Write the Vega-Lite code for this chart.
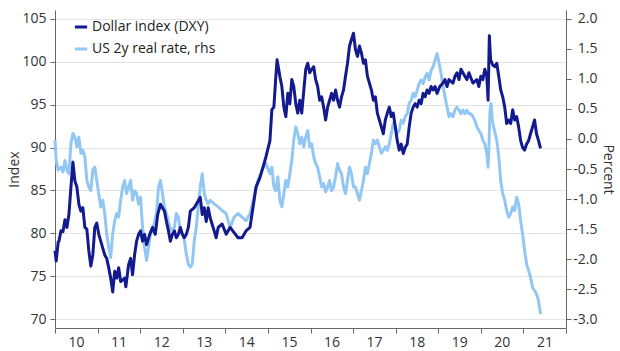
{
  "$schema": "https://vega.github.io/schema/vega-lite/v6.json",
  "autosize": {"type": "none"},
  "width": 511,
  "height": 318,
  "padding": {"left": 55, "top": 10, "right": 54, "bottom": 23},
  "background": "#ffffff",
  "config": {
    "font": "Open Sans",
    "view": {"stroke": null},
    "axis": {"labelFont": "Open Sans", "titleFont": "Open Sans", "labelFontSize": 14, "titleFontSize": 14, "labelColor": "#333333", "titleColor": "#333333", "titleFontWeight": "normal", "domainColor": "#666666", "tickColor": "#666666", "tickSize": 5, "gridColor": "#e4e4e4"},
    "legend": {"labelFont": "Open Sans", "labelFontSize": 14, "labelColor": "#222222"}
  },
  "datasets": {
    "dxy": [
      {"t": 2010.000, "v": 78.0}, {"t": 2010.028, "v": 76.8}, {"t": 2010.075, "v": 79.0}, {"t": 2010.093, "v": 79.1},
      {"t": 2010.140, "v": 80.3}, {"t": 2010.187, "v": 80.2}, {"t": 2010.234, "v": 81.6}, {"t": 2010.280, "v": 80.7},
      {"t": 2010.327, "v": 82.2}, {"t": 2010.374, "v": 85.4}, {"t": 2010.421, "v": 88.3}, {"t": 2010.467, "v": 86.1},
      {"t": 2010.514, "v": 85.4}, {"t": 2010.561, "v": 83.4}, {"t": 2010.607, "v": 82.6}, {"t": 2010.654, "v": 83.0},
      {"t": 2010.701, "v": 80.7}, {"t": 2010.748, "v": 80.5}, {"t": 2010.794, "v": 78.0}, {"t": 2010.841, "v": 76.2},
      {"t": 2010.888, "v": 77.5}, {"t": 2010.935, "v": 80.7}, {"t": 2010.981, "v": 81.2}, {"t": 2011.028, "v": 79.9},
      {"t": 2011.075, "v": 79.1}, {"t": 2011.121, "v": 78.3}, {"t": 2011.168, "v": 77.5}, {"t": 2011.215, "v": 77.1},
      {"t": 2011.262, "v": 76.0}, {"t": 2011.308, "v": 74.8}, {"t": 2011.355, "v": 73.2}, {"t": 2011.402, "v": 75.6},
      {"t": 2011.449, "v": 74.8}, {"t": 2011.495, "v": 76.0}, {"t": 2011.542, "v": 74.4}, {"t": 2011.589, "v": 74.6},
      {"t": 2011.636, "v": 74.8}, {"t": 2011.664, "v": 73.8}, {"t": 2011.729, "v": 76.4}, {"t": 2011.776, "v": 77.1},
      {"t": 2011.822, "v": 75.2}, {"t": 2011.869, "v": 77.5}, {"t": 2011.916, "v": 79.1}, {"t": 2011.963, "v": 79.9},
      {"t": 2012.009, "v": 80.3}, {"t": 2012.056, "v": 79.1}, {"t": 2012.103, "v": 79.9}, {"t": 2012.150, "v": 78.7},
      {"t": 2012.224, "v": 79.9}, {"t": 2012.290, "v": 80.7}, {"t": 2012.355, "v": 79.9}, {"t": 2012.411, "v": 82.2},
      {"t": 2012.477, "v": 83.4}, {"t": 2012.523, "v": 83.0}, {"t": 2012.570, "v": 82.6}, {"t": 2012.617, "v": 81.4},
      {"t": 2012.664, "v": 80.3}, {"t": 2012.710, "v": 79.1}, {"t": 2012.757, "v": 79.9}, {"t": 2012.804, "v": 80.3},
      {"t": 2012.850, "v": 79.5}, {"t": 2012.897, "v": 79.9}, {"t": 2012.944, "v": 80.7}, {"t": 2012.991, "v": 79.9},
      {"t": 2013.037, "v": 79.5}, {"t": 2013.084, "v": 79.9}, {"t": 2013.131, "v": 80.7}, {"t": 2013.178, "v": 82.6},
      {"t": 2013.271, "v": 83.0}, {"t": 2013.364, "v": 83.8}, {"t": 2013.411, "v": 84.2}, {"t": 2013.458, "v": 82.2},
      {"t": 2013.505, "v": 83.0}, {"t": 2013.551, "v": 81.4}, {"t": 2013.598, "v": 83.0}, {"t": 2013.645, "v": 81.8},
      {"t": 2013.738, "v": 80.3}, {"t": 2013.785, "v": 79.5}, {"t": 2013.832, "v": 80.7}, {"t": 2013.925, "v": 81.1},
      {"t": 2014.019, "v": 79.9}, {"t": 2014.112, "v": 80.7}, {"t": 2014.206, "v": 80.1}, {"t": 2014.299, "v": 79.5},
      {"t": 2014.393, "v": 79.5}, {"t": 2014.486, "v": 80.3}, {"t": 2014.579, "v": 80.7}, {"t": 2014.673, "v": 83.8},
      {"t": 2014.720, "v": 85.4}, {"t": 2014.813, "v": 86.5}, {"t": 2014.907, "v": 88.1}, {"t": 2014.953, "v": 88.9},
      {"t": 2015.047, "v": 90.8}, {"t": 2015.093, "v": 94.4}, {"t": 2015.140, "v": 94.7}, {"t": 2015.187, "v": 98.3},
      {"t": 2015.215, "v": 100.2}, {"t": 2015.280, "v": 98.3}, {"t": 2015.327, "v": 97.1}, {"t": 2015.374, "v": 94.7},
      {"t": 2015.421, "v": 93.6}, {"t": 2015.467, "v": 96.3}, {"t": 2015.514, "v": 95.1}, {"t": 2015.561, "v": 97.9},
      {"t": 2015.607, "v": 97.1}, {"t": 2015.654, "v": 95.1}, {"t": 2015.701, "v": 94.0}, {"t": 2015.748, "v": 95.5},
      {"t": 2015.794, "v": 94.0}, {"t": 2015.888, "v": 99.1}, {"t": 2015.935, "v": 99.8}, {"t": 2015.981, "v": 98.7},
      {"t": 2016.028, "v": 99.1}, {"t": 2016.075, "v": 99.4}, {"t": 2016.121, "v": 97.9}, {"t": 2016.168, "v": 97.1},
      {"t": 2016.215, "v": 95.5}, {"t": 2016.262, "v": 95.9}, {"t": 2016.308, "v": 94.7}, {"t": 2016.355, "v": 93.2},
      {"t": 2016.402, "v": 94.7}, {"t": 2016.449, "v": 95.5}, {"t": 2016.495, "v": 96.3}, {"t": 2016.542, "v": 95.5},
      {"t": 2016.589, "v": 96.7}, {"t": 2016.636, "v": 95.5}, {"t": 2016.682, "v": 94.7}, {"t": 2016.729, "v": 95.9},
      {"t": 2016.776, "v": 96.7}, {"t": 2016.822, "v": 98.3}, {"t": 2016.869, "v": 99.8}, {"t": 2016.916, "v": 101.8},
      {"t": 2016.963, "v": 102.6}, {"t": 2017.009, "v": 103.3}, {"t": 2017.056, "v": 101.4}, {"t": 2017.103, "v": 100.6},
      {"t": 2017.150, "v": 101.8}, {"t": 2017.196, "v": 101.0}, {"t": 2017.243, "v": 99.8}, {"t": 2017.290, "v": 100.2},
      {"t": 2017.336, "v": 98.3}, {"t": 2017.383, "v": 97.5}, {"t": 2017.430, "v": 96.7}, {"t": 2017.477, "v": 95.5},
      {"t": 2017.523, "v": 95.9}, {"t": 2017.570, "v": 94.0}, {"t": 2017.617, "v": 93.2}, {"t": 2017.664, "v": 92.4},
      {"t": 2017.710, "v": 91.6}, {"t": 2017.757, "v": 93.2}, {"t": 2017.804, "v": 94.0}, {"t": 2017.850, "v": 94.7},
      {"t": 2017.897, "v": 93.6}, {"t": 2017.944, "v": 94.0}, {"t": 2017.991, "v": 92.4}, {"t": 2018.037, "v": 90.8},
      {"t": 2018.084, "v": 89.7}, {"t": 2018.131, "v": 90.4}, {"t": 2018.178, "v": 89.3}, {"t": 2018.224, "v": 90.0},
      {"t": 2018.271, "v": 90.4}, {"t": 2018.318, "v": 92.4}, {"t": 2018.364, "v": 94.0}, {"t": 2018.411, "v": 94.7},
      {"t": 2018.458, "v": 95.1}, {"t": 2018.505, "v": 94.7}, {"t": 2018.551, "v": 95.5}, {"t": 2018.598, "v": 95.1},
      {"t": 2018.645, "v": 96.3}, {"t": 2018.692, "v": 95.9}, {"t": 2018.738, "v": 96.7}, {"t": 2018.785, "v": 96.3},
      {"t": 2018.832, "v": 97.1}, {"t": 2018.879, "v": 96.7}, {"t": 2018.925, "v": 97.1}, {"t": 2018.972, "v": 96.3},
      {"t": 2019.037, "v": 97.1}, {"t": 2019.112, "v": 97.5}, {"t": 2019.159, "v": 97.9}, {"t": 2019.206, "v": 97.1},
      {"t": 2019.252, "v": 97.9}, {"t": 2019.346, "v": 97.5}, {"t": 2019.393, "v": 98.3}, {"t": 2019.439, "v": 98.7},
      {"t": 2019.486, "v": 97.9}, {"t": 2019.533, "v": 99.1}, {"t": 2019.626, "v": 98.3}, {"t": 2019.673, "v": 97.9},
      {"t": 2019.720, "v": 98.7}, {"t": 2019.813, "v": 97.5}, {"t": 2019.907, "v": 97.9}, {"t": 2019.953, "v": 97.1},
      {"t": 2020.000, "v": 98.3}, {"t": 2020.047, "v": 97.9}, {"t": 2020.093, "v": 99.1}, {"t": 2020.140, "v": 98.3},
      {"t": 2020.170, "v": 95.5}, {"t": 2020.200, "v": 103.0}, {"t": 2020.230, "v": 100.2}, {"t": 2020.280, "v": 99.6},
      {"t": 2020.327, "v": 99.4}, {"t": 2020.374, "v": 99.8}, {"t": 2020.421, "v": 98.3}, {"t": 2020.467, "v": 96.7},
      {"t": 2020.514, "v": 95.9}, {"t": 2020.561, "v": 94.7}, {"t": 2020.607, "v": 92.8}, {"t": 2020.654, "v": 93.2},
      {"t": 2020.701, "v": 92.8}, {"t": 2020.748, "v": 94.4}, {"t": 2020.794, "v": 93.2}, {"t": 2020.841, "v": 93.6},
      {"t": 2020.888, "v": 92.4}, {"t": 2020.935, "v": 90.8}, {"t": 2020.981, "v": 90.0}, {"t": 2021.028, "v": 89.7},
      {"t": 2021.075, "v": 90.4}, {"t": 2021.121, "v": 90.8}, {"t": 2021.168, "v": 91.6}, {"t": 2021.215, "v": 92.4},
      {"t": 2021.262, "v": 93.2}, {"t": 2021.308, "v": 91.6}, {"t": 2021.355, "v": 90.8}, {"t": 2021.402, "v": 89.9}
    ],
    "rate": [
      {"t": 2010.000, "v": -0.02}, {"t": 2010.028, "v": -0.36}, {"t": 2010.075, "v": -0.52}, {"t": 2010.140, "v": -0.47},
      {"t": 2010.187, "v": -0.55}, {"t": 2010.234, "v": -0.36}, {"t": 2010.280, "v": -0.52}, {"t": 2010.327, "v": -0.58},
      {"t": 2010.374, "v": -0.08}, {"t": 2010.421, "v": 0.09}, {"t": 2010.467, "v": 0.03}, {"t": 2010.514, "v": -0.13},
      {"t": 2010.561, "v": 0.03}, {"t": 2010.607, "v": -0.24}, {"t": 2010.654, "v": -0.19}, {"t": 2010.701, "v": -0.30},
      {"t": 2010.748, "v": -0.69}, {"t": 2010.794, "v": -0.80}, {"t": 2010.841, "v": -0.86}, {"t": 2010.888, "v": -0.52},
      {"t": 2010.935, "v": -0.47}, {"t": 2010.981, "v": -0.69}, {"t": 2011.028, "v": -0.91}, {"t": 2011.075, "v": -1.13},
      {"t": 2011.121, "v": -1.02}, {"t": 2011.168, "v": -1.24}, {"t": 2011.215, "v": -1.58}, {"t": 2011.262, "v": -1.80},
      {"t": 2011.308, "v": -1.97}, {"t": 2011.355, "v": -1.58}, {"t": 2011.402, "v": -1.36}, {"t": 2011.449, "v": -1.24},
      {"t": 2011.495, "v": -1.30}, {"t": 2011.542, "v": -1.02}, {"t": 2011.589, "v": -0.80}, {"t": 2011.636, "v": -0.69},
      {"t": 2011.682, "v": -0.91}, {"t": 2011.729, "v": -0.80}, {"t": 2011.776, "v": -0.69}, {"t": 2011.822, "v": -1.02},
      {"t": 2011.869, "v": -0.86}, {"t": 2011.916, "v": -0.91}, {"t": 2011.963, "v": -1.08}, {"t": 2012.009, "v": -0.97},
      {"t": 2012.056, "v": -1.47}, {"t": 2012.103, "v": -1.80}, {"t": 2012.150, "v": -2.02}, {"t": 2012.196, "v": -1.80},
      {"t": 2012.243, "v": -1.58}, {"t": 2012.290, "v": -1.52}, {"t": 2012.383, "v": -1.24}, {"t": 2012.430, "v": -0.80},
      {"t": 2012.477, "v": -0.69}, {"t": 2012.523, "v": -0.91}, {"t": 2012.570, "v": -1.13}, {"t": 2012.617, "v": -1.24},
      {"t": 2012.710, "v": -1.52}, {"t": 2012.804, "v": -1.47}, {"t": 2012.850, "v": -1.24}, {"t": 2012.897, "v": -1.30},
      {"t": 2012.944, "v": -1.52}, {"t": 2012.991, "v": -1.58}, {"t": 2013.037, "v": -1.69}, {"t": 2013.084, "v": -1.91},
      {"t": 2013.131, "v": -2.08}, {"t": 2013.178, "v": -2.13}, {"t": 2013.224, "v": -2.08}, {"t": 2013.271, "v": -1.69},
      {"t": 2013.318, "v": -1.47}, {"t": 2013.364, "v": -1.13}, {"t": 2013.411, "v": -0.80}, {"t": 2013.458, "v": -0.58},
      {"t": 2013.505, "v": -0.91}, {"t": 2013.551, "v": -1.02}, {"t": 2013.598, "v": -1.08}, {"t": 2013.645, "v": -1.02},
      {"t": 2013.738, "v": -1.08}, {"t": 2013.832, "v": -1.13}, {"t": 2013.925, "v": -1.19}, {"t": 2014.019, "v": -1.24},
      {"t": 2014.065, "v": -1.36}, {"t": 2014.112, "v": -1.47}, {"t": 2014.206, "v": -1.30}, {"t": 2014.299, "v": -1.24},
      {"t": 2014.393, "v": -1.30}, {"t": 2014.486, "v": -1.36}, {"t": 2014.579, "v": -1.24}, {"t": 2014.673, "v": -0.97},
      {"t": 2014.766, "v": -0.69}, {"t": 2014.860, "v": -0.52}, {"t": 2014.953, "v": -0.41}, {"t": 2015.047, "v": -0.58},
      {"t": 2015.093, "v": -0.47}, {"t": 2015.140, "v": -0.80}, {"t": 2015.187, "v": -0.86}, {"t": 2015.234, "v": -0.63},
      {"t": 2015.280, "v": -1.02}, {"t": 2015.327, "v": -1.13}, {"t": 2015.374, "v": -0.91}, {"t": 2015.421, "v": -0.69},
      {"t": 2015.467, "v": -0.80}, {"t": 2015.514, "v": -0.58}, {"t": 2015.561, "v": -0.36}, {"t": 2015.607, "v": -0.02},
      {"t": 2015.654, "v": 0.20}, {"t": 2015.701, "v": 0.09}, {"t": 2015.748, "v": -0.08}, {"t": 2015.794, "v": 0.03},
      {"t": 2015.841, "v": -0.13}, {"t": 2015.888, "v": 0.03}, {"t": 2015.935, "v": 0.14}, {"t": 2015.981, "v": -0.13},
      {"t": 2016.028, "v": -0.08}, {"t": 2016.075, "v": -0.30}, {"t": 2016.121, "v": -0.41}, {"t": 2016.168, "v": -0.47},
      {"t": 2016.215, "v": -0.63}, {"t": 2016.262, "v": -0.80}, {"t": 2016.308, "v": -0.74}, {"t": 2016.355, "v": -0.88},
      {"t": 2016.402, "v": -0.80}, {"t": 2016.449, "v": -0.69}, {"t": 2016.495, "v": -0.86}, {"t": 2016.542, "v": -0.80},
      {"t": 2016.589, "v": -0.63}, {"t": 2016.636, "v": -0.41}, {"t": 2016.682, "v": -0.52}, {"t": 2016.729, "v": -0.58},
      {"t": 2016.776, "v": -0.80}, {"t": 2016.822, "v": -0.91}, {"t": 2016.869, "v": -0.69}, {"t": 2016.916, "v": -0.47},
      {"t": 2016.963, "v": -0.58}, {"t": 2017.009, "v": -0.80}, {"t": 2017.056, "v": -0.80}, {"t": 2017.103, "v": -0.91},
      {"t": 2017.150, "v": -1.02}, {"t": 2017.196, "v": -0.86}, {"t": 2017.243, "v": -0.69}, {"t": 2017.290, "v": -0.47},
      {"t": 2017.336, "v": -0.58}, {"t": 2017.383, "v": -0.41}, {"t": 2017.430, "v": -0.24}, {"t": 2017.477, "v": -0.02},
      {"t": 2017.523, "v": -0.08}, {"t": 2017.570, "v": -0.02}, {"t": 2017.617, "v": -0.13}, {"t": 2017.664, "v": -0.24},
      {"t": 2017.710, "v": -0.19}, {"t": 2017.757, "v": -0.13}, {"t": 2017.804, "v": -0.19}, {"t": 2017.850, "v": -0.08},
      {"t": 2017.897, "v": 0.09}, {"t": 2017.944, "v": 0.26}, {"t": 2017.991, "v": 0.20}, {"t": 2018.037, "v": 0.09},
      {"t": 2018.084, "v": 0.14}, {"t": 2018.131, "v": 0.31}, {"t": 2018.178, "v": 0.26}, {"t": 2018.224, "v": 0.37},
      {"t": 2018.271, "v": 0.42}, {"t": 2018.318, "v": 0.59}, {"t": 2018.364, "v": 0.64}, {"t": 2018.411, "v": 0.76},
      {"t": 2018.458, "v": 0.70}, {"t": 2018.505, "v": 0.81}, {"t": 2018.551, "v": 0.92}, {"t": 2018.598, "v": 0.98},
      {"t": 2018.645, "v": 0.92}, {"t": 2018.692, "v": 1.03}, {"t": 2018.738, "v": 1.09}, {"t": 2018.785, "v": 0.98},
      {"t": 2018.832, "v": 1.14}, {"t": 2018.879, "v": 1.20}, {"t": 2018.925, "v": 1.31}, {"t": 2018.972, "v": 1.42},
      {"t": 2019.019, "v": 1.26}, {"t": 2019.065, "v": 1.09}, {"t": 2019.112, "v": 0.87}, {"t": 2019.159, "v": 0.70},
      {"t": 2019.206, "v": 0.53}, {"t": 2019.252, "v": 0.37}, {"t": 2019.299, "v": 0.42}, {"t": 2019.346, "v": 0.37},
      {"t": 2019.393, "v": 0.48}, {"t": 2019.439, "v": 0.53}, {"t": 2019.486, "v": 0.48}, {"t": 2019.533, "v": 0.42},
      {"t": 2019.579, "v": 0.48}, {"t": 2019.626, "v": 0.42}, {"t": 2019.673, "v": 0.48}, {"t": 2019.720, "v": 0.42},
      {"t": 2019.766, "v": 0.42}, {"t": 2019.813, "v": 0.37}, {"t": 2019.860, "v": 0.31}, {"t": 2019.907, "v": 0.20},
      {"t": 2019.953, "v": 0.14}, {"t": 2020.000, "v": 0.09}, {"t": 2020.047, "v": -0.02}, {"t": 2020.093, "v": -0.08},
      {"t": 2020.140, "v": -0.24}, {"t": 2020.170, "v": -0.47}, {"t": 2020.190, "v": -0.13}, {"t": 2020.215, "v": 0.48},
      {"t": 2020.240, "v": 0.59}, {"t": 2020.270, "v": 0.31}, {"t": 2020.300, "v": 0.20}, {"t": 2020.374, "v": -0.02},
      {"t": 2020.421, "v": -0.30}, {"t": 2020.467, "v": -0.69}, {"t": 2020.514, "v": -0.91}, {"t": 2020.561, "v": -1.02},
      {"t": 2020.607, "v": -1.19}, {"t": 2020.654, "v": -1.30}, {"t": 2020.701, "v": -1.24}, {"t": 2020.748, "v": -1.13},
      {"t": 2020.794, "v": -1.19}, {"t": 2020.841, "v": -0.97}, {"t": 2020.888, "v": -1.08}, {"t": 2020.935, "v": -1.36},
      {"t": 2020.981, "v": -1.58}, {"t": 2021.028, "v": -1.86}, {"t": 2021.075, "v": -2.08}, {"t": 2021.121, "v": -2.19},
      {"t": 2021.168, "v": -2.30}, {"t": 2021.215, "v": -2.47}, {"t": 2021.262, "v": -2.52}, {"t": 2021.308, "v": -2.58},
      {"t": 2021.355, "v": -2.69}, {"t": 2021.402, "v": -2.91}
    ]
  },
  "layer": [
    {
      "data": {"name": "rate"},
      "mark": {"type": "line", "strokeWidth": 3, "strokeJoin": "round"},
      "encoding": {
        "x": {"field": "t", "type": "quantitative", "scale": {"domain": [2010, 2022], "nice": false, "zero": false},
          "axis": {"values": [2010, 2011, 2012, 2013, 2014, 2015, 2016, 2017, 2018, 2019, 2020, 2021, 2022], "labelExpr": "datum.value < 2022 ? substring(toString(datum.value), 2, 4) : ''", "labelOffset": 21, "labelPadding": 2, "grid": false, "title": null, "labelFlush": false, "labelOverlap": false}},
        "y": {"field": "v", "type": "quantitative", "scale": {"domain": [-3.142857, 2.142857], "nice": false, "zero": false},
          "axis": {"orient": "right", "title": "Percent", "values": [-3, -2.5, -2, -1.5, -1, -0.5, 0, 0.5, 1, 1.5, 2], "format": ".1f", "labelExpr": "replace(datum.label, '\u2212', '-')", "labelAlign": "right", "labelPadding": 26, "titlePadding": 3, "grid": false, "titleAngle": 90}},
        "color": {"datum": "US 2y real rate, rhs", "type": "nominal"}
      }
    },
    {
      "data": {"name": "dxy"},
      "mark": {"type": "line", "strokeWidth": 3, "strokeJoin": "round"},
      "encoding": {
        "x": {"field": "t", "type": "quantitative"},
        "y": {"field": "v", "type": "quantitative", "scale": {"domain": [69, 106], "nice": false, "zero": false},
          "axis": {"orient": "left", "title": "Index", "values": [70, 75, 80, 85, 90, 95, 100, 105], "labelPadding": 4, "titlePadding": 0, "grid": true}},
        "color": {"datum": "Dollar index (DXY)", "type": "nominal",
          "scale": {"domain": ["Dollar index (DXY)", "US 2y real rate, rhs"], "range": ["#121a8e", "#93c7f3"]},
          "legend": {"title": null, "orient": "none", "legendX": 18, "legendY": 9, "symbolType": "stroke", "symbolStrokeWidth": 3, "symbolSize": 150, "rowPadding": 7, "labelOffset": 3}}
      }
    }
  ],
  "resolve": {"scale": {"y": "independent"}, "axis": {"y": "independent"}}
}
